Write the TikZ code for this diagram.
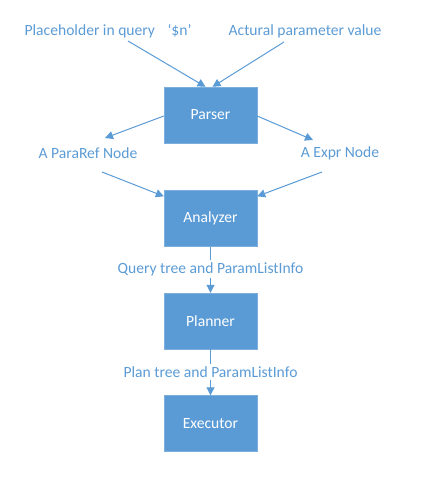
\documentclass[tikz,border=0pt]{standalone}
\usepackage{fontspec}
\setmainfont{Carlito}
\usetikzlibrary{arrows.meta,calc}
\definecolor{oblue}{HTML}{5B9BD5}
\tikzset{
  proc/.style={fill=oblue, draw=oblue!80!white, minimum width=93bp, minimum height=56bp, inner sep=0pt, text=white, font=\fontsize{15.6bp}{18bp}\selectfont},
  lbl/.style={text=oblue, inner sep=2bp, font=\fontsize{15.6bp}{18bp}\selectfont},
  arr/.style={draw=oblue, line width=1bp, -{Triangle[length=8bp,width=8bp]}},
  ln/.style={draw=oblue, line width=1bp}
}
\begin{document}
\begin{tikzpicture}[x=1bp,y=-1bp]
\useasboundingbox (0,0) rectangle (422,492);
\node[proc] (parser) at (210.5,115) {Parser};
\node[proc] (analyzer) at (210.5,218.5) {Analyzer};
\node[proc] (planner) at (210.5,321) {Planner};
\node[proc] (executor) at (210.5,423.5) {Executor};
\node[lbl] (ph) at (108,31) {Placeholder in query\hspace{0.8em}‘\$n’};
\node[lbl] (act) at (305,31) {Actural parameter value};
\node[lbl] (pref) at (88,153) {A ParaRef Node};
\node[lbl] (expr) at (340,153) {A Expr Node};
\node[lbl] (qt) at (210.5,269) {Query tree and ParamListInfo};
\node[lbl] (pt) at (210.5,372) {Plan tree and ParamListInfo};
\coordinate (phs) at (128,41);
\coordinate (acts) at (284,42);
\coordinate (pe) at (102,172);
\coordinate (ee) at (322,172);
\coordinate (pl) at (105,138);
\coordinate (er) at (313,140);
\draw[arr] (phs) -- ($(parser.north)+(-5,0)$);
\draw[arr] (acts) -- ($(parser.north)+(2,0)$);
\draw[arr] ($(parser.west)+(0,1)$) -- (pl);
\draw[arr] ($(parser.east)+(0,1)$) -- (er);
\draw[arr] (pe) -- ($(analyzer.north west)+(0,6)$);
\draw[arr] (ee) -- ($(analyzer.north east)+(0,6)$);
\draw[ln] (analyzer.south) -- (qt.north);
\draw[arr] (qt.south) -- (planner.north);
\draw[ln] (planner.south) -- (pt.north);
\draw[arr] (pt.south) -- (executor.north);
\end{tikzpicture}
\end{document}
